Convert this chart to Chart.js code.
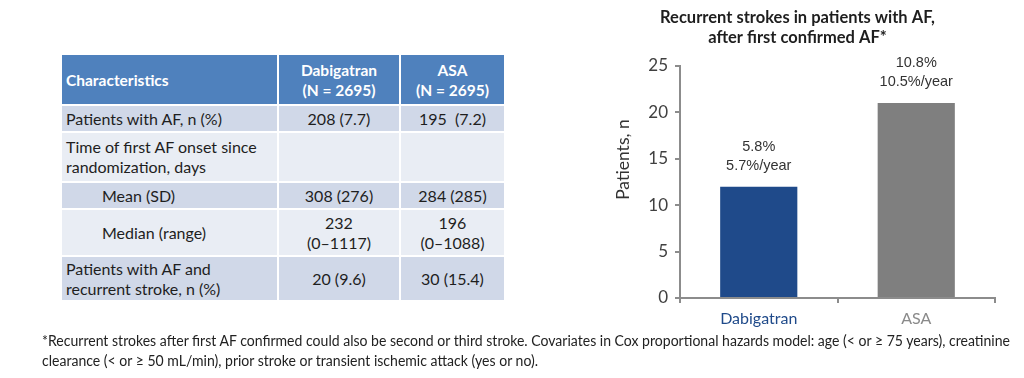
<!DOCTYPE html>
<html><head><meta charset="utf-8">
<script src="https://cdn.jsdelivr.net/npm/chart.js@4/dist/chart.umd.min.js"></script>
<style>
html,body{margin:0;padding:0;background:#fff;width:1024px;height:378px;overflow:hidden;}
body{position:relative;font-family:Lato,"Open Sans",sans-serif;}
.cell{position:absolute;box-sizing:border-box;display:flex;align-items:center;font-size:16px;line-height:20px;color:#1e1e1e;white-space:pre;}
.hdr{background:#4f81bd;color:#fff;font-weight:bold;font-size:15.5px;}
.dark{background:#d0d8e8;}
.light{background:#e9edf4;}
.c0{justify-content:flex-start;padding-left:4px;}
.cc{justify-content:center;text-align:center;}
#chartWrap{position:absolute;left:600px;top:0;width:424px;height:335px;}
#foot{position:absolute;left:42px;top:331px;font-family:Lato,"Open Sans",sans-serif;font-size:14.5px;line-height:20px;color:#222;transform-origin:0 0;white-space:nowrap;}
</style></head>
<body>
<div id="tbl"></div>
<div id="chartWrap"><canvas id="c" width="424" height="335"></canvas></div>
<div id="foot"><div id="f1">*Recurrent strokes after first AF confirmed could also be second or third stroke. Covariates in Cox proportional hazards model: age (&lt; or ≥ 75 years), creatinine</div><div id="f2">clearance (&lt; or ≥ 50 mL/min), prior stroke or transient ischemic attack (yes or no).</div></div>
<script>
// ---- data ----
const categories = ['Dabigatran', 'ASA'];
const recurrentStrokes = [12, 21];
const pctLabels = ['5.8%', '10.8%'];
const rateLabels = ['5.7%/year', '10.5%/year'];
const categoryColors = ['#1f4a8a', '#7f7f7f'];
const labelColors = ['#1f4a8a', '#8a8a8a'];
const tableHeader = ['Characteristics', 'Dabigatran\n(N = 2695)', 'ASA\n(N = 2695)'];
const rowLabels = ['Patients with AF, n (%)', 'Time of first AF onset since\nrandomization, days', 'Mean (SD)', 'Median (range)', 'Patients with AF and\nrecurrent stroke, n (%)'];
const dabigatranCol = ['208 (7.7)', '', '308 (276)', '232\n(0–1117)', '20 (9.6)'];
const asaCol = ['195  (7.2)', '', '284 (285)', '196\n(0–1088)', '30 (15.4)'];
const indentedRows = [false, false, true, true, false];

// ---- table layout ----
const colX = [62, 279, 401, 506];
const rowY = [55, 106, 133, 183, 210, 257, 302];
const tbl = document.getElementById('tbl');
function addCell(text, r, c, cls, indent) {
  const d = document.createElement('div');
  d.className = 'cell ' + cls + (c === 0 ? ' c0' : ' cc');
  d.style.left = colX[c] + 'px';
  d.style.top = rowY[r] + 'px';
  d.style.width = (colX[c + 1] - colX[c] - 2) + 'px';
  d.style.height = (rowY[r + 1] - rowY[r] - 2) + 'px';
  if (indent) d.style.paddingLeft = '40px';
  d.textContent = text;
  tbl.appendChild(d);
}
tableHeader.forEach((t, c) => addCell(t, 0, c, 'hdr', false));
rowLabels.forEach((lab, i) => {
  const cls = (i % 2 === 0) ? 'dark' : 'light';
  addCell(lab, i + 1, 0, cls, indentedRows[i]);
  addCell(dabigatranCol[i], i + 1, 1, cls, false);
  addCell(asaCol[i], i + 1, 2, cls, false);
});

// ---- footnote fit ----
const foot = document.getElementById('foot');
const w = document.getElementById('f1').getBoundingClientRect().width;
foot.style.transform = 'scaleX(' + (968 / w) + ')';

// ---- chart ----
const barLabels = {
  id: 'barLabels',
  afterDatasetsDraw(chart) {
    const ctx = chart.ctx;
    const meta = chart.getDatasetMeta(0);
    ctx.save();
    ctx.font = '14.5px "Liberation Sans", Arial, sans-serif';
    ctx.fillStyle = '#333';
    ctx.textAlign = 'center';
    ctx.textBaseline = 'middle';
    meta.data.forEach((bar, i) => {
      ctx.fillText(pctLabels[i], bar.x, bar.y - 40);
      ctx.fillText(rateLabels[i], bar.x, bar.y - 21);
    });
    ctx.restore();
  }
};
Chart.defaults.font.family = 'Lato, "Open Sans", sans-serif';
new Chart(document.getElementById('c'), {
  type: 'bar',
  data: {
    labels: categories,
    datasets: [{ data: recurrentStrokes, backgroundColor: categoryColors, categoryPercentage: 1, barPercentage: 0.49 }]
  },
  options: {
    responsive: false,
    animation: false,
    layout: { padding: { left: 0, right: 29, top: 0, bottom: 0 } },
    plugins: {
      legend: { display: false },
      tooltip: { enabled: false },
      title: {
        display: true,
        text: ['Recurrent strokes in patients with AF,', 'after first confirmed AF*'],
        color: '#1e1e1e',
        font: { size: 16.5, weight: 'bold', lineHeight: 20 / 16.5 },
        padding: { top: 8, bottom: 18 }
      }
    },
    scales: {
      x: {
        grid: { display: true, drawOnChartArea: false, drawTicks: true, tickLength: 5, color: '#8c8c8c', lineWidth: 2, offset: true },
        border: { display: true, color: '#8c8c8c', width: 2 },
        ticks: { color: labelColors, font: { size: 16 }, padding: 6 },
        afterFit: s => { s.height = 37; }
      },
      y: {
        min: 0, max: 25,
        ticks: { stepSize: 5, padding: 7, color: '#404040', font: { size: 17 } },
        grid: { drawOnChartArea: false, drawTicks: true, tickLength: 5, color: '#8c8c8c', lineWidth: 2 },
        border: { display: true, color: '#8c8c8c', width: 2 },
        title: { display: true, text: '          Patients, n', color: '#333', font: { size: 17.5 }, padding: { top: 13 } },
        afterFit: s => { s.width = 80; }
      }
    }
  },
  plugins: [barLabels]
});
</script>
</body></html>
